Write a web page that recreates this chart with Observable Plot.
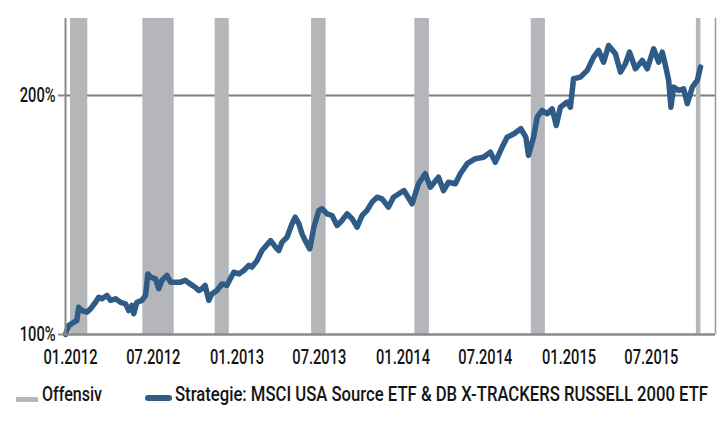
<!DOCTYPE html>
<html>
<head>
<meta charset="utf-8">
<script src="https://cdn.jsdelivr.net/npm/d3@7"></script>
<script src="https://cdn.jsdelivr.net/npm/@observablehq/plot@0.6"></script>
<style>
  html, body { margin: 0; padding: 0; background: #fff; }
  #wrap { position: relative; width: 723px; height: 425px; font-family: Roboto, sans-serif; font-weight: 500; color: #151515; overflow: hidden; }
  #chart { position: absolute; left: 0; top: 0; }
  #chart text { font-weight: 500; }
  .leg { position: absolute; font-size: 21px; line-height: 21px; white-space: nowrap; transform-origin: 0 50%; }
  .sw { position: absolute; }
</style>
</head>
<body>
<div id="wrap">
  <div id="chart"></div>
  <div class="sw" style="left:16px; top:397px; width:22px; height:5px; background:#b4b6b9;"></div>
  <div class="leg" id="leg1" style="left:42px; top:384px;">Offensiv</div>
  <div class="sw" style="left:145px; top:395px; width:27px; height:6px; border-radius:3px; background:#2f5b87;"></div>
  <div class="leg" id="leg2" style="left:175px; top:384px;">Strategie: MSCI USA Source ETF &amp; DB X-TRACKERS RUSSELL 2000 ETF</div>
</div>
<script>
const dates = [
  "2012-01-01","2012-01-08","2012-01-19","2012-01-26","2012-01-30","2012-02-06","2012-02-17","2012-02-25","2012-03-07","2012-03-14",
  "2012-03-21","2012-04-01","2012-04-09","2012-04-20","2012-05-01","2012-05-12","2012-05-19","2012-05-26","2012-05-30","2012-06-06",
  "2012-06-17","2012-06-25","2012-06-30","2012-07-06","2012-07-17","2012-07-24","2012-07-31","2012-08-11","2012-08-19","2012-08-30",
  "2012-09-10","2012-09-20","2012-10-01","2012-10-12","2012-10-20","2012-10-27","2012-11-03","2012-11-11","2012-11-18","2012-11-29",
  "2012-12-10","2012-12-21","2012-12-28",
  "2013-01-05","2013-01-16","2013-01-27","2013-02-07","2013-02-14","2013-02-25","2013-03-08","2013-03-27","2013-04-07","2013-04-14",
  "2013-04-21","2013-05-02","2013-05-13","2013-05-20","2013-05-28","2013-06-04","2013-06-11","2013-06-21","2013-06-30","2013-07-11",
  "2013-07-18","2013-07-29","2013-08-09","2013-08-20","2013-08-31","2013-09-11","2013-09-22","2013-10-03","2013-10-14","2013-10-25",
  "2013-11-05","2013-11-16","2013-11-27","2013-12-11","2013-12-22",
  "2014-01-14","2014-02-01","2014-02-15","2014-03-02","2014-03-13","2014-03-31","2014-04-11","2014-04-22","2014-05-07","2014-05-18",
  "2014-06-02","2014-06-20","2014-07-08","2014-07-23","2014-08-03","2014-08-18","2014-08-29","2014-09-13","2014-09-28","2014-10-09",
  "2014-10-15","2014-10-26","2014-11-03","2014-11-14","2014-11-25","2014-12-06","2014-12-15","2014-12-24",
  "2015-01-08","2015-01-15","2015-01-22","2015-02-06","2015-02-21","2015-03-07","2015-03-18","2015-03-29","2015-04-09","2015-04-24",
  "2015-05-05","2015-05-16","2015-05-25","2015-06-07","2015-06-22","2015-07-03","2015-07-17","2015-07-28","2015-08-05","2015-08-12",
  "2015-08-19","2015-08-24","2015-08-30","2015-09-10","2015-09-21","2015-09-29","2015-10-10","2015-10-21","2015-10-28"
];
const values = [
  100, 102.6, 103.6, 104.1, 108.2, 107.2, 106.7, 107.7, 109.8, 111.4,
  110.9, 112.0, 110.4, 110.9, 109.8, 109.3, 107.2, 108.8, 106.2, 109.8,
  110.4, 112.0, 119.2, 118.1, 117.5, 114.2, 117.0, 118.7, 116.4, 116.4,
  116.4, 117.0, 115.8, 114.7, 113.6, 114.2, 115.3, 110.4, 112.5, 113.6,
  115.8, 115.3, 117.5,
  119.8, 119.2, 120.4, 122.2, 121.6, 123.9, 127.6, 131.3, 128.8, 127.6,
  130.7, 132.6, 137.9, 140.5, 137.9, 133.9, 131.3, 128.2, 136.5, 143.3,
  144.0, 141.9, 141.2, 137.2, 139.2, 141.9, 139.9, 136.5, 141.2, 143.3,
  146.8, 148.9, 148.2, 144.7, 148.9,
  151.8, 146.1, 154.8, 159.4, 153.3, 157.8, 151.8, 155.5, 154.8, 159.4,
  164.1, 166.5, 167.2, 169.7, 164.8, 172.2, 177.2, 179.0, 181.6, 177.2,
  168.1, 177.2, 187.8, 191.5, 189.7, 192.4, 183.3, 193.3,
  196.2, 193.3, 209.9, 210.9, 215.1, 223.5, 227.9, 220.3, 231.2, 225.7,
  214.0, 219.3, 226.8, 216.1, 221.4, 216.1, 229.0, 220.3, 226.8, 218.2,
  208.9, 193.3, 204.9, 202.9, 203.9, 195.3, 204.9, 208.9, 217.1
];
const bandStarts = ["2012-01-12","2012-06-19","2012-11-25","2013-06-25","2014-02-07","2014-10-21","2015-10-19"];
const bandEnds   = ["2012-02-19","2012-08-27","2012-12-26","2013-07-27","2014-03-11","2014-11-21","2015-10-29"];
const yTicks = [100, 200];
const xTicks = ["2012-01-01","2012-07-01","2013-01-01","2013-07-01","2014-01-01","2014-07-01","2015-01-01","2015-07-01"];
const xTickLabels = ["01.2012","07.2012","01.2013","07.2013","01.2014","07.2014","01.2015","07.2015"];
const xDomain = ["2012-01-01","2015-11-30"];

const series = dates.map((d, i) => ({date: new Date(d), value: values[i]}));
const bands = bandStarts.map((s, i) => ({start: new Date(s), end: new Date(bandEnds[i])}));
const xTickDates = xTicks.map(d => new Date(d));
const labelOf = new Map(xTickDates.map((d, i) => [+d, xTickLabels[i]]));
const dom = xDomain.map(d => new Date(d));

const chart = Plot.plot({
  width: 723,
  height: 380,
  marginTop: 18,
  marginBottom: 46,
  marginLeft: 65,
  marginRight: 8,
  style: {fontFamily: "Roboto, sans-serif", fontSize: "21px", color: "#151515", background: "#fff", overflow: "visible"},
  x: {type: "utc", domain: dom},
  y: {type: "log", domain: [100, 250]},
  marks: [
    Plot.ruleY([200], {stroke: "#7d7d7d", strokeWidth: 2}),
    Plot.rect(bands, {x1: "start", x2: "end", fill: "#b4b6b9"}),
    Plot.line(series, {x: "date", y: "value", stroke: "#2f5b87", strokeWidth: 5.5, strokeLinejoin: "round", strokeLinecap: "round"}),
    Plot.ruleX([dom[0]], {stroke: "#8a8a8a", strokeWidth: 2}),
    Plot.ruleX([dom[1]], {stroke: "#9a9a9a", strokeWidth: 1.5}),
    Plot.ruleY([100], {stroke: "#8a8a8a", strokeWidth: 2.5}),
    Plot.axisY({ticks: yTicks, tickFormat: d => d + "%", tickSize: 7, tickPadding: 3, stroke: "#8a8a8a", strokeWidth: 2, label: null, fontSize: 21}),
    Plot.axisX({ticks: xTickDates, tickFormat: d => labelOf.get(+d), tickSize: 0, tickPadding: 15, dx: 5, label: null, fontSize: 21})
  ]
});
document.getElementById("chart").appendChild(chart);

// condense text horizontally to imitate the narrow typeface of the original
const ref = Array.from(chart.querySelectorAll("text")).find(t => t.textContent === "01.2012");
const squeeze = ref ? 54 / ref.getComputedTextLength() : 0.75;
chart.querySelectorAll("text").forEach(t => {
  const w = t.getComputedTextLength();
  if (w > 0) {
    t.setAttribute("textLength", (w * squeeze).toFixed(2));
    t.setAttribute("lengthAdjust", "spacingAndGlyphs");
  }
});
const l2 = document.getElementById("leg2");
l2.style.transform = `scaleX(${533 / l2.getBoundingClientRect().width})`;
const l1 = document.getElementById("leg1");
l1.style.transform = `scaleX(${60 / l1.getBoundingClientRect().width})`;
</script>
</body>
</html>
